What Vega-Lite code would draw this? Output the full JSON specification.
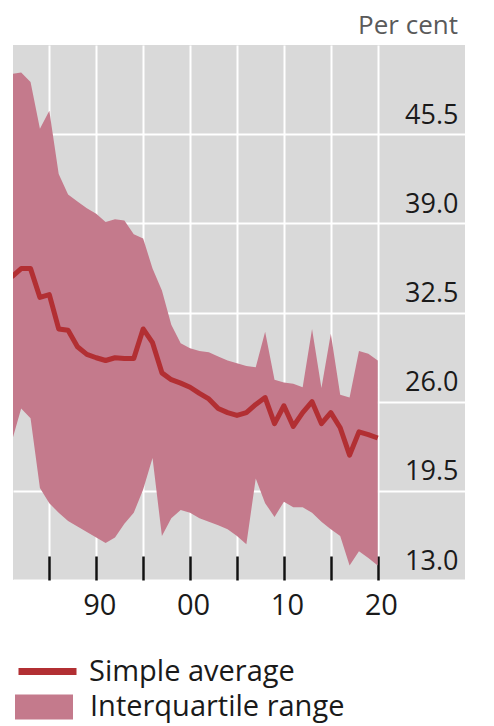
{
  "$schema": "https://vega.github.io/schema/vega-lite/v6.json",
  "autosize": "none",
  "width": 452,
  "height": 535,
  "padding": {"left": 13, "top": 45, "right": 29, "bottom": 146},
  "background": "white",
  "view": {"fill": "#d9d9d9", "stroke": null},
  "config": {"font": "Open Sans"},
  "title": {"text": "Per cent", "anchor": "end", "orient": "top", "fontSize": 26, "fontWeight": "normal", "color": "#5a5a5a", "font": "Open Sans", "dx": -7, "offset": 6},
  "data": {"values": [
    {"year": 1981, "lo": 23.1, "hi": 49.9, "avg": 35.1},
    {"year": 1982, "lo": 25.5, "hi": 50.0, "avg": 35.7},
    {"year": 1983, "lo": 24.8, "hi": 49.3, "avg": 35.7},
    {"year": 1984, "lo": 19.7, "hi": 45.9, "avg": 33.6},
    {"year": 1985, "lo": 18.6, "hi": 47.2, "avg": 33.8},
    {"year": 1986, "lo": 17.9, "hi": 42.6, "avg": 31.3},
    {"year": 1987, "lo": 17.3, "hi": 41.1, "avg": 31.2},
    {"year": 1988, "lo": 16.9, "hi": 40.6, "avg": 30.0},
    {"year": 1989, "lo": 16.5, "hi": 40.1, "avg": 29.45},
    {"year": 1990, "lo": 16.1, "hi": 39.7, "avg": 29.2},
    {"year": 1991, "lo": 15.7, "hi": 39.1, "avg": 29.0},
    {"year": 1992, "lo": 16.1, "hi": 39.3, "avg": 29.2},
    {"year": 1993, "lo": 17.1, "hi": 39.2, "avg": 29.15},
    {"year": 1994, "lo": 17.9, "hi": 38.2, "avg": 29.15},
    {"year": 1995, "lo": 19.6, "hi": 37.9, "avg": 31.3},
    {"year": 1996, "lo": 21.9, "hi": 35.7, "avg": 30.3},
    {"year": 1997, "lo": 16.2, "hi": 34.1, "avg": 28.1},
    {"year": 1998, "lo": 17.5, "hi": 31.6, "avg": 27.6},
    {"year": 1999, "lo": 18.1, "hi": 30.25, "avg": 27.35},
    {"year": 2000, "lo": 17.9, "hi": 29.9, "avg": 27.05},
    {"year": 2001, "lo": 17.5, "hi": 29.7, "avg": 26.6},
    {"year": 2002, "lo": 17.25, "hi": 29.6, "avg": 26.2},
    {"year": 2003, "lo": 17.0, "hi": 29.3, "avg": 25.5},
    {"year": 2004, "lo": 16.7, "hi": 29.0, "avg": 25.2},
    {"year": 2005, "lo": 16.2, "hi": 28.8, "avg": 25.0},
    {"year": 2006, "lo": 15.6, "hi": 28.6, "avg": 25.2},
    {"year": 2007, "lo": 20.4, "hi": 28.5, "avg": 25.8},
    {"year": 2008, "lo": 18.6, "hi": 31.1, "avg": 26.3},
    {"year": 2009, "lo": 17.6, "hi": 27.6, "avg": 24.4},
    {"year": 2010, "lo": 18.7, "hi": 27.4, "avg": 25.7},
    {"year": 2011, "lo": 18.3, "hi": 27.3, "avg": 24.2},
    {"year": 2012, "lo": 18.3, "hi": 27.05, "avg": 25.2},
    {"year": 2013, "lo": 17.9, "hi": 31.3, "avg": 26.0},
    {"year": 2014, "lo": 17.25, "hi": 27.0, "avg": 24.4},
    {"year": 2015, "lo": 16.7, "hi": 30.95, "avg": 25.2},
    {"year": 2016, "lo": 16.2, "hi": 26.5, "avg": 24.1},
    {"year": 2017, "lo": 14.05, "hi": 26.3, "avg": 22.1},
    {"year": 2018, "lo": 15.1, "hi": 29.7, "avg": 23.8},
    {"year": 2019, "lo": 14.6, "hi": 29.5, "avg": 23.6},
    {"year": 2020, "lo": 14.05, "hi": 29.0, "avg": 23.35}
  ]},
  "encoding": {
    "x": {
      "field": "year", "type": "quantitative",
      "scale": {"domain": [1981.13, 2029.3], "nice": false, "zero": false},
      "axis": {
        "title": null, "values": [1985, 1990, 1995, 2000, 2005, 2010, 2015, 2020],
        "labelExpr": "datum.value % 10 === 0 ? format(datum.value % 100, '02d') : ''",
        "grid": true, "gridColor": "white", "gridWidth": 2, "gridOpacity": 1,
        "domain": false, "ticks": true, "tickSize": -24, "tickColor": "#111111", "tickWidth": 2.5,
        "labelFontSize": 29, "labelColor": "#1a1a1a", "labelPadding": 35, "labelFont": "Open Sans",
        "labelOffset": 3, "labelFlush": false, "labelOverlap": false
      }
    }
  },
  "layer": [
    {
      "mark": {"type": "area", "clip": true},
      "encoding": {
        "y": {
          "field": "lo", "type": "quantitative",
          "scale": {"domain": [13, 52], "nice": false, "zero": false},
          "axis": {
            "title": null, "orient": "right", "values": [13, 19.5, 26, 32.5, 39, 45.5], "format": ".1f",
            "grid": true, "gridColor": "white", "gridWidth": 2, "gridOpacity": 1,
            "domain": false, "ticks": false, "labelAlign": "right", "labelPadding": -7,
            "labelBaseline": "alphabetic", "labelOffset": -11, "labelFontSize": 27,
            "labelColor": "#1a1a1a", "labelFont": "Open Sans", "labelFlush": false, "labelOverlap": false
          }
        },
        "y2": {"field": "hi"},
        "fill": {"datum": "Interquartile range", "type": "nominal",
          "scale": {"range": ["#c47a8c"]},
          "legend": {"title": null, "orient": "none", "legendX": 2, "legendY": 633, "padding": 0,
            "symbolType": "M-1,-0.43H1V0.43H-1Z", "symbolSize": 3364, "symbolOpacity": 1, "symbolStrokeWidth": 0,
            "labelFontSize": 29, "labelColor": "#1a1a1a", "labelFont": "Open Sans", "labelOffset": 17, "labelLimit": 400}}
      }
    },
    {
      "mark": {"type": "line", "strokeWidth": 5, "clip": true, "strokeJoin": "round"},
      "encoding": {
        "y": {"field": "avg", "type": "quantitative"},
        "stroke": {"datum": "Simple average", "type": "nominal",
          "scale": {"range": ["#b22f33"]},
          "legend": {"title": null, "orient": "none", "legendX": 2, "legendY": 594, "padding": 0,
            "symbolType": "stroke", "symbolSize": 3364, "symbolStrokeWidth": 7, "symbolOpacity": 1,
            "labelFontSize": 29, "labelColor": "#1a1a1a", "labelFont": "Open Sans", "labelOffset": 9, "labelLimit": 400}}
      }
    }
  ]
}
